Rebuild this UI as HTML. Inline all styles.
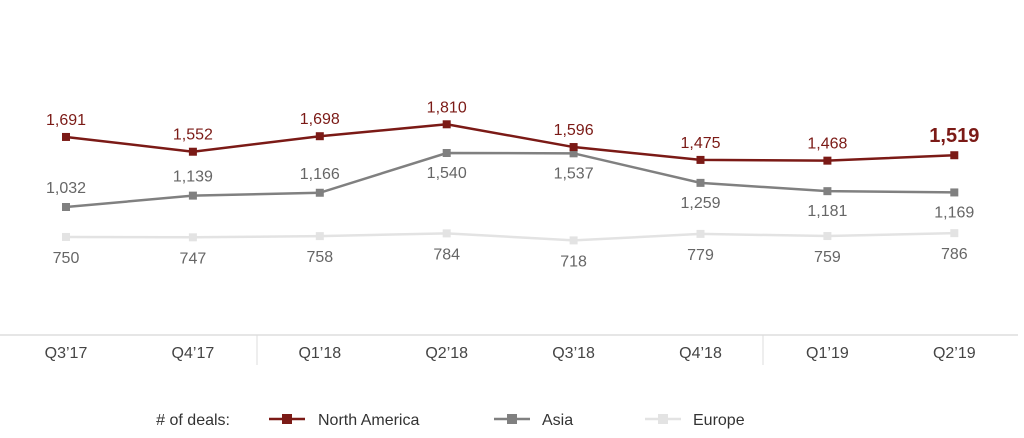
<!DOCTYPE html>
<html><head><meta charset="utf-8"><style>
html,body{margin:0;padding:0;background:#fff;}
svg{display:block;font-family:"Liberation Sans",Arial,sans-serif;}
</style></head><body>
<svg id="chart" width="1024" height="438" viewBox="0 0 1024 438">
<line x1="0" y1="335" x2="1018" y2="335" stroke="#ddd" stroke-width="1.5"/>
<line x1="257" y1="335" x2="257" y2="365" stroke="#ddd"/>
<line x1="763" y1="335" x2="763" y2="365" stroke="#ddd"/>
<g id="plot"></g>
<g font-size="16" fill="#333">
<text x="230" y="425" text-anchor="end"># of deals:</text>
<g><line x1="269" y1="419" x2="305" y2="419" stroke="#7b1a16" stroke-width="2.5"/><rect x="282" y="414" width="10" height="10" fill="#7b1a16"/><text x="318" y="425">North America</text></g>
<g><line x1="494" y1="419" x2="530" y2="419" stroke="#808080" stroke-width="2.5"/><rect x="507" y="414" width="10" height="10" fill="#808080"/><text x="542" y="425">Asia</text></g>
<g><line x1="645" y1="419" x2="681" y2="419" stroke="#e3e3e3" stroke-width="2.5"/><rect x="658" y="414" width="10" height="10" fill="#e3e3e3"/><text x="693" y="425">Europe</text></g>
</g>
</svg>
<script>
const categories=["Q3\u201917","Q4\u201917","Q1\u201918","Q2\u201918","Q3\u201918","Q4\u201918","Q1\u201919","Q2\u201919"];
const northAmerica=[1691,1552,1698,1810,1596,1475,1468,1519];
const asia=[1032,1139,1166,1540,1537,1259,1181,1169];
const europe=[750,747,758,784,718,779,759,786];
const asiaLabelBelow=[false,false,false,true,true,true,true,true];
const NS='http://www.w3.org/2000/svg';
const g=document.getElementById('plot');
function xS(i){return 66+i*126.9;}
function yS(v){return 153-(v-1540)*0.1063;}
function fmt(v){return v.toLocaleString('en-US');}
function mk(tag,attrs){const e=document.createElementNS(NS,tag);for(const k in attrs)e.setAttribute(k,attrs[k]);g.appendChild(e);return e;}
categories.forEach((c,i)=>{
 const t=mk('text',{x:xS(i),y:358,'text-anchor':'middle','font-size':16,fill:'#444'});
 t.textContent=c;
 
 
});
function series(vals,color,name,labelFn){
 const p=mk('polyline',{points:vals.map((v,i)=>xS(i)+','+yS(v)).join(' '),fill:'none',stroke:color,'stroke-width':2.5});
 
 
 vals.forEach((v,i)=>{
  const r=mk('rect',{x:xS(i)-4,y:yS(v)-4,width:8,height:8,fill:color});
  
  
  const L=labelFn(v,i);
  const t=mk('text',{x:xS(i),y:L.y,'text-anchor':'middle','font-size':L.size||16,fill:L.fill,'font-weight':L.bold?'bold':'normal'});
  t.textContent=fmt(v);
  
  
 });
}
series(europe,'#e3e3e3','europe',(v)=>({y:yS(v)+26,fill:'#666'}));
series(asia,'#808080','asia',(v,i)=>({y:asiaLabelBelow[i]?yS(v)+25:yS(v)-14,fill:'#666'}));
series(northAmerica,'#7b1a16','north-america',(v,i)=>i===northAmerica.length-1?({y:yS(v)-13,fill:'#7b1a16',bold:true,size:20}):({y:yS(v)-12,fill:'#7b1a16'}));
</script>
</body></html>
